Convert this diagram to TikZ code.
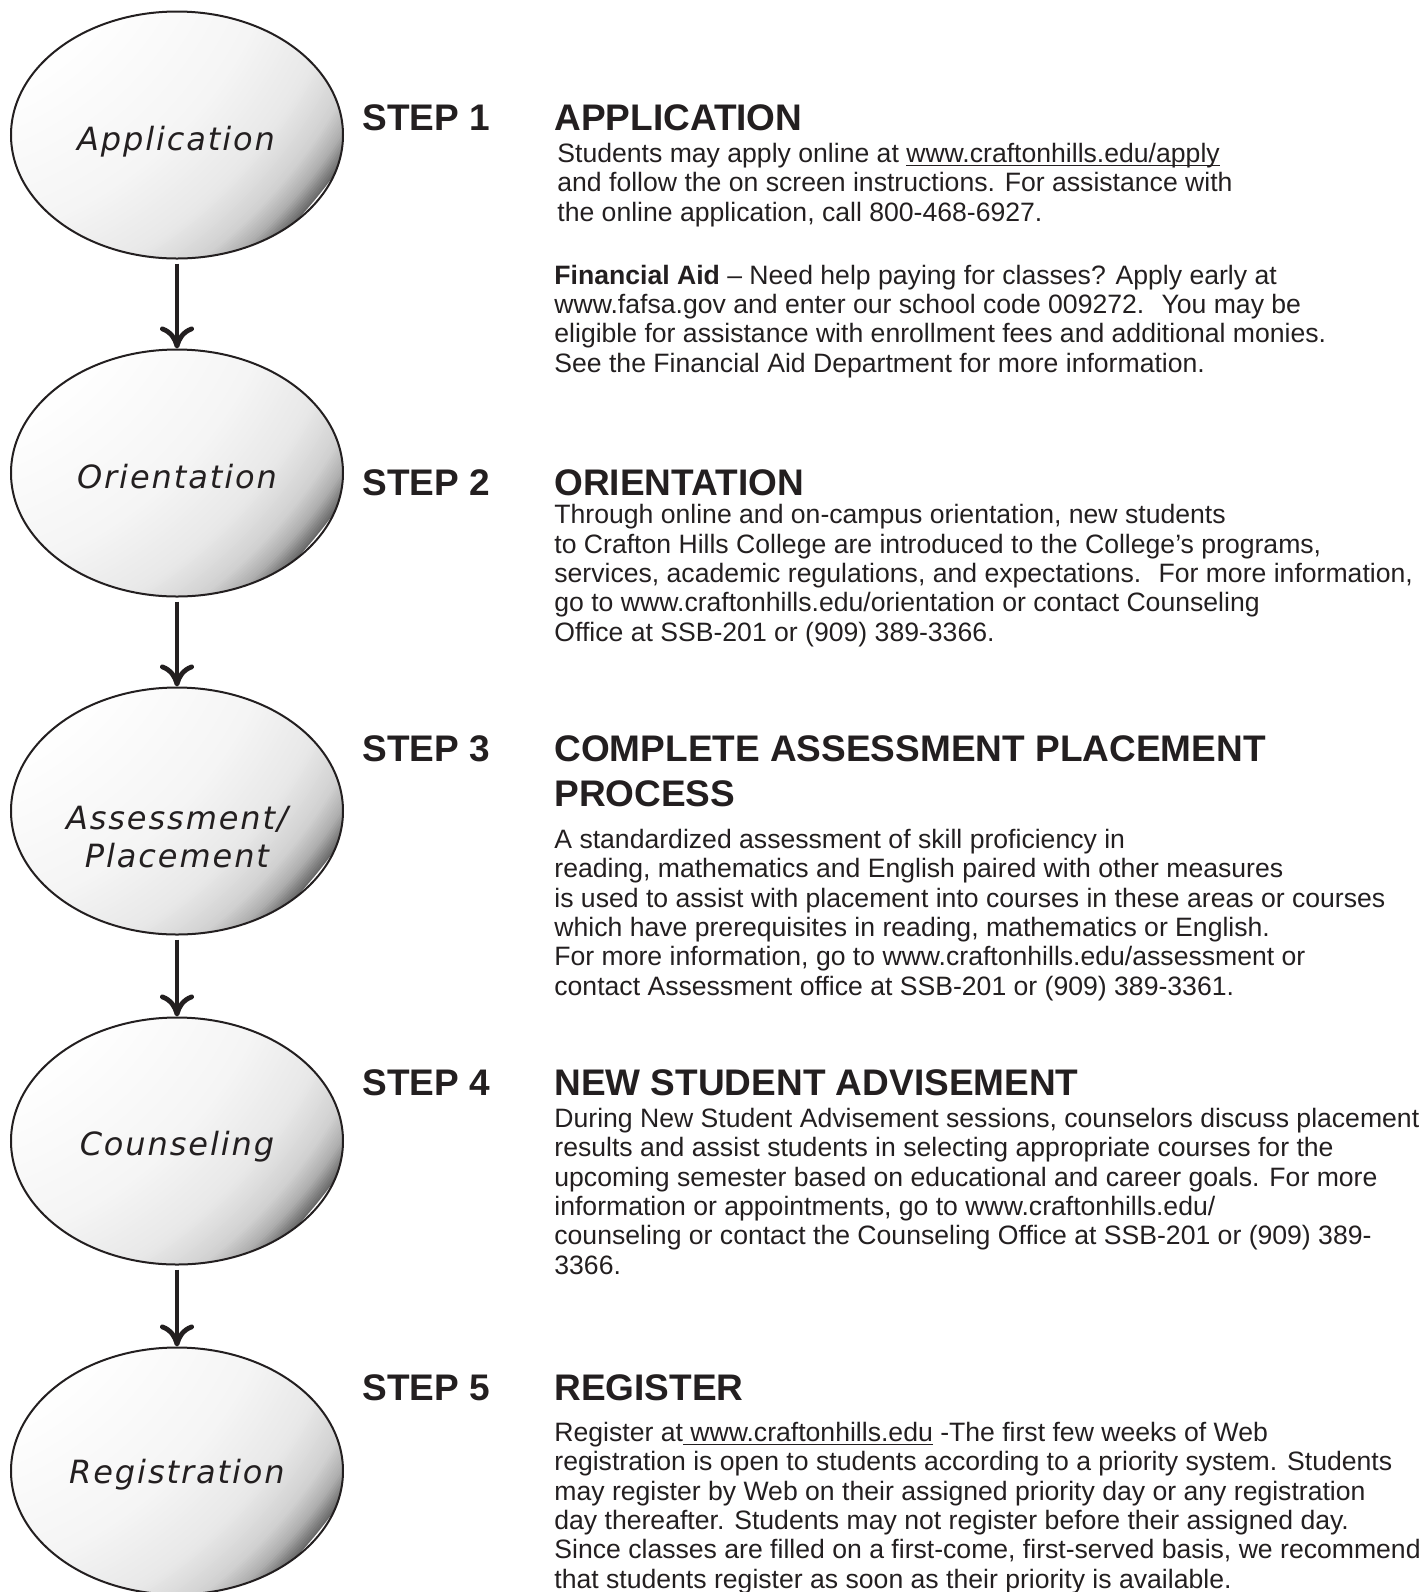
\documentclass[tikz,border=0pt]{standalone}
\usepackage{fontspec}
\setmainfont{Liberation Sans}
\newfontfamily\bubfont[LetterSpace=6]{DejaVu Sans}
\usepackage{xcolor}
\usepackage{tikz}
\usetikzlibrary{arrows.meta}
\usetikzlibrary{shapes.geometric}

\definecolor{ink}{RGB}{35,31,32}

\begin{document}
\begin{tikzpicture}[x=0.5pt,y=-0.5pt,
  bubble/.style={ellipse,draw=ink,line width=1pt,minimum width=166pt,minimum height=123.5pt,inner sep=0pt,
    path picture={\foreach \rr in {546,544,...,256}{
        \pgfmathsetmacro\vv{\rr<400 ? 4*(\rr-254)/146 : (\rr<470 ? 4+(\rr-400)*5/70 : (\rr<510 ? 9+(\rr-470)*9/40 : (\rr<530 ? 18+(\rr-510)*14/20 : 32+(\rr-530)*26/16)))}
        \fill[black!\vv] ([shift={(-283,-283)}]path picture bounding box.center) circle (\rr);}}},
  bubtext/.style={font=\bubfont\itshape\fontsize{16}{19}\selectfont,text=ink,align=center,anchor=base,inner sep=0pt},
  flow/.style={draw=ink,line width=2.2pt,-{Computer Modern Rightarrow[length=11pt,width=17pt,line width=2.4pt]},shorten <=2pt},
  steplbl/.style={font=\fontsize{18.5}{22.5}\selectfont\bfseries,text=ink,align=left,anchor=base west,inner sep=0pt},
  stepbody/.style={font=\fontsize{13.3}{14.65}\selectfont,text=ink,align=left,anchor=base west,inner sep=0pt}]
\useasboundingbox (0,0) rectangle (1424,1592);

\node[bubble] (e1) at (177,135) {};
\node[bubble] (e2) at (177,473) {};
\node[bubble] (e3) at (177,811) {};
\node[bubble] (e4) at (177,1141) {};
\node[bubble] (e5) at (177,1471) {};

\node[bubtext] (t1) at (176,150) {Application};
\node[bubtext] (t2) at (177,488) {Orientation};
\node[bubtext] (t3) at (177,867) {Assessment/\\Placement};
\node[bubtext] (t4) at (177,1155) {Counseling};
\node[bubtext] (t5) at (177,1483) {Registration};

\draw[flow] (e1.south) -- (e2.north);
\draw[flow] (e2.south) -- (e3.north);
\draw[flow] (e3.south) -- (e4.north);
\draw[flow] (e4.south) -- (e5.north);

\node[steplbl] (st1) at (362,130) {STEP 1};
\node[steplbl] (hd1) at (554,130) {APPLICATION};
\node[stepbody] (bd1) at (557,221) {Students may apply online at \underline{\smash{www.craftonhills.edu/apply}}\\and follow the on screen instructions. For assistance with\\the online application, call 800-468-6927.};
\node[stepbody] (aid1) at (554,372) {\textbf{Financial Aid} – Need help paying for classes? Apply early at\\www.fafsa.gov and enter our school code 009272.~ You may be\\eligible for assistance with enrollment fees and additional monies.\\See the Financial Aid Department for more information.};

\node[steplbl] (st2) at (362,495) {STEP 2};
\node[steplbl] (hd2) at (554,495) {ORIENTATION};
\node[stepbody] (bd2) at (554,641) {Through online and on-campus orientation, new students\\to Crafton Hills College are introduced to the College’s programs,\\services, academic regulations, and expectations.~ For more information,\\go to www.craftonhills.edu/orientation or contact Counseling\\Office at SSB-201 or (909) 389-3366.};

\node[steplbl] (st3) at (362,761) {STEP 3};
\node[steplbl] (hd3) at (554,806) {COMPLETE ASSESSMENT PLACEMENT\\PROCESS};
\node[stepbody] (bd3) at (554,995) {A standardized assessment of skill proficiency in\\reading, mathematics and English paired with other measures\\is used to assist with placement into courses in these areas or courses\\which have prerequisites in reading, mathematics or English.\\For more information, go to www.craftonhills.edu/assessment or\\contact Assessment office at SSB-201 or (909) 389-3361.};

\node[steplbl] (st4) at (362,1095) {STEP 4};
\node[steplbl] (hd4) at (554,1095) {NEW STUDENT ADVISEMENT};
\node[stepbody] (bd4) at (554,1274) {During New Student Advisement sessions, counselors discuss placement\\results and assist students in selecting appropriate courses for the\\upcoming semester based on educational and career goals. For more\\information or appointments, go to www.craftonhills.edu/\\counseling or contact the Counseling Office at SSB-201 or (909) 389-\\3366.};

\node[steplbl] (st5) at (362,1400) {STEP 5};
\node[steplbl] (hd5) at (554,1400) {REGISTER};
\node[stepbody] (bd5) at (554,1588) {Register at\underline{\smash{ www.craftonhills.edu}} -The first few weeks of Web\\registration is open to students according to a priority system. Students\\may register by Web on their assigned priority day or any registration\\day thereafter. Students may not register before their assigned day.\\Since classes are filled on a first-come, first-served basis, we recommend\\that students register as soon as their priority is available.};
\end{tikzpicture}
\end{document}
